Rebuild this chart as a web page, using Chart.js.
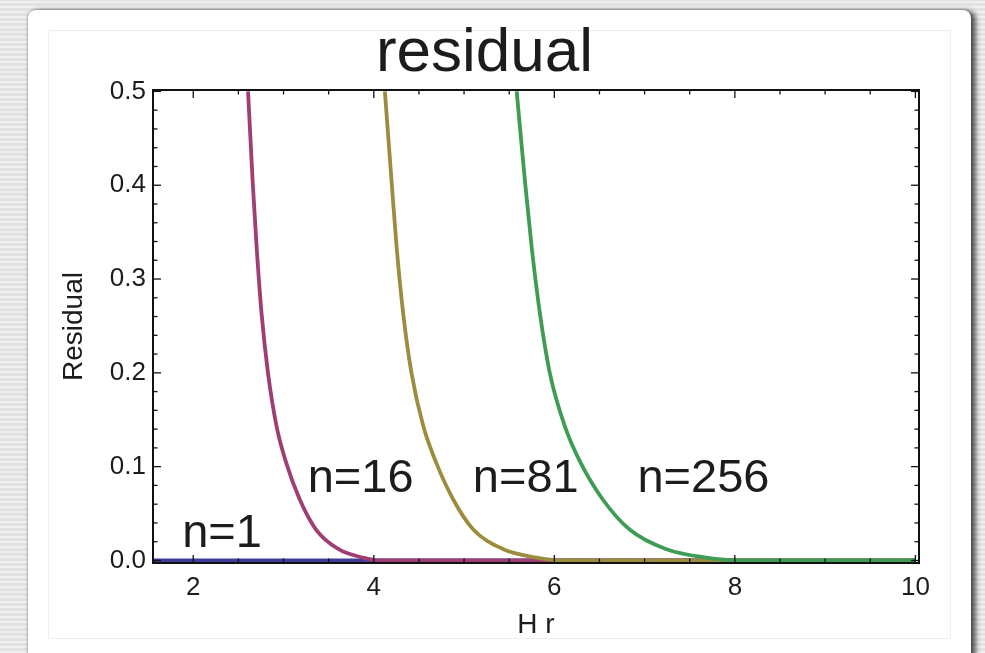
<!DOCTYPE html>
<html>
<head>
<meta charset="utf-8">
<title>residual</title>
<script src="https://cdn.jsdelivr.net/npm/chart.js@4.4.1/dist/chart.umd.min.js"></script>
<style>
  html, body { margin: 0; padding: 0; width: 985px; height: 653px; overflow: hidden; }
  body {
    background-color: #e6e6e6;
    background-image: repeating-linear-gradient(0deg, rgba(255,255,255,0.35) 0px, rgba(255,255,255,0.35) 2px, rgba(0,0,0,0.015) 2px, rgba(0,0,0,0.015) 5px);
  }
  #card {
    position: absolute; left: 28px; top: 10px; width: 943px; height: 700px;
    background: #fff; border-radius: 8px;
    box-shadow: 0 0 3px rgba(0,0,0,0.5), 5px 1px 5px rgba(0,0,0,0.6);
  }
  #inner {
    position: absolute; left: 48px; top: 30px; width: 901px; height: 607px;
    border: 1px solid #eeeeee;
  }
  #plot { position: absolute; left: 0; top: 0; }
</style>
</head>
<body>
<div id="card"></div>
<div id="inner"></div>
<canvas id="plot" width="985" height="653"></canvas>
<script>
// Residual versus H r for n = 1, 16, 81, 256
const hr1 = [1.554, 10.0];
const res1 = [0, 0];

const hr16 = [2.607, 2.658, 2.702, 2.757, 2.829, 2.923, 3.030, 3.180, 3.360, 3.610, 3.880, 4.050, 10.0];
const res16 = [0.500, 0.404, 0.334, 0.263, 0.199, 0.143, 0.104, 0.065, 0.033, 0.012, 0.003, 0.000, 0.000];

const hr81 = [4.123, 4.197, 4.253, 4.326, 4.419, 4.549, 4.692, 4.880, 5.102, 5.435, 5.805, 6.050, 10.0];
const res81 = [0.500, 0.404, 0.334, 0.263, 0.199, 0.143, 0.104, 0.065, 0.033, 0.012, 0.003, 0.000, 0.000];

const hr256 = [5.583, 5.675, 5.749, 5.841, 5.952, 6.117, 6.292, 6.537, 6.834, 7.242, 7.682, 8.050, 10.0];
const res256 = [0.500, 0.404, 0.334, 0.263, 0.199, 0.143, 0.104, 0.065, 0.033, 0.012, 0.003, 0.000, 0.000];

// axis ticks
const xMajorTicks = [2, 4, 6, 8, 10];
const xMinorTicks = [2.5, 3, 3.5, 4.5, 5, 5.5, 6.5, 7, 7.5, 8.5, 9, 9.5];
const yMajorTicks = [0, 0.1, 0.2, 0.3, 0.4, 0.5];
const yMinorTicks = [0.02, 0.04, 0.06, 0.08, 0.12, 0.14, 0.16, 0.18, 0.22, 0.24, 0.26, 0.28,
                     0.32, 0.34, 0.36, 0.38, 0.42, 0.44, 0.46, 0.48];

// curve labels, anchored in data coordinates (text baseline)
const labelTexts = ['n=1', 'n=16', 'n=81', 'n=256'];
const labelHr = [2.319, 3.854, 5.684, 7.652];
const labelRes = [0.0145, 0.0735, 0.0735, 0.0735];

const FONT = '"Liberation Sans", Arial, Helvetica, sans-serif';
const INK = '#1c1c1c';

function pts(xs, ys) { return xs.map((v, i) => ({ x: v, y: ys[i] })); }

const series = [
  { label: 'n=1',   xs: hr1,   ys: res1,   color: 'rgb(63,61,153)',  order: 3 },
  { label: 'n=16',  xs: hr16,  ys: res16,  color: 'rgb(158,62,116)', order: 2 },
  { label: 'n=81',  xs: hr81,  ys: res81,  color: 'rgb(156,140,62)', order: 1 },
  { label: 'n=256', xs: hr256, ys: res256, color: 'rgb(62,156,84)',  order: 0 }
];

const frameAndLabels = {
  id: 'frameAndLabels',
  afterDatasetsDraw(chart) {
    const { ctx, chartArea: a, scales: { x, y } } = chart;
    ctx.save();
    ctx.strokeStyle = '#111';
    const seg = (x1, y1, x2, y2) => { ctx.beginPath(); ctx.moveTo(x1, y1); ctx.lineTo(x2, y2); ctx.stroke(); };
    ctx.lineWidth = 1.3;
    xMajorTicks.forEach(v => { const p = x.getPixelForValue(v); seg(p, a.bottom, p, a.bottom - 8); seg(p, a.top, p, a.top + 8); });
    xMinorTicks.forEach(v => { const p = x.getPixelForValue(v); seg(p, a.bottom, p, a.bottom - 4.5); seg(p, a.top, p, a.top + 4.5); });
    yMajorTicks.forEach(v => { const p = y.getPixelForValue(v); seg(a.left, p, a.left + 8, p); seg(a.right, p, a.right - 8, p); });
    yMinorTicks.forEach(v => { const p = y.getPixelForValue(v); seg(a.left, p, a.left + 4.5, p); seg(a.right, p, a.right - 4.5, p); });
    ctx.lineWidth = 2;
    ctx.strokeRect(a.left, a.top, a.right - a.left, a.bottom - a.top);

    ctx.fillStyle = INK;
    ctx.font = '47px ' + FONT;
    ctx.textAlign = 'center';
    ctx.textBaseline = 'alphabetic';
    labelTexts.forEach((t, i) => ctx.fillText(t, x.getPixelForValue(labelHr[i]), y.getPixelForValue(labelRes[i])));
    ctx.restore();
  }
};

Chart.defaults.font.family = FONT;
Chart.defaults.color = INK;

new Chart(document.getElementById('plot'), {
  type: 'line',
  data: {
    datasets: series.map(s => ({
      label: s.label,
      data: pts(s.xs, s.ys),
      borderColor: s.color,
      borderWidth: 3.8,
      pointRadius: 0,
      fill: false,
      cubicInterpolationMode: 'monotone',
      order: s.order
    }))
  },
  options: {
    responsive: false,
    animation: false,
    devicePixelRatio: 1,
    layout: { padding: { left: 50, right: 66, top: 0, bottom: 0 } },
    plugins: {
      legend: { display: false },
      tooltip: { enabled: false },
      title: {
        display: true,
        text: 'residual',
        color: INK,
        font: { size: 62, weight: 'normal', lineHeight: 1.1 },
        padding: { top: 20, bottom: 1.8 }
      }
    },
    scales: {
      x: {
        type: 'linear',
        min: 1.554,
        max: 10.04,
        grid: { display: false, drawTicks: false },
        border: { display: false },
        afterBuildTicks: s => { s.ticks = xMajorTicks.map(v => ({ value: v })); },
        afterFit: s => { s.height = 90; },
        ticks: { autoSkip: false, maxRotation: 0, padding: 9, font: { size: 26 }, color: INK,
                 callback: v => String(v) },
        title: { display: true, text: 'H r', color: INK, font: { size: 28, lineHeight: 1.2 }, padding: { top: 0, bottom: 11 } }
      },
      y: {
        type: 'linear',
        min: -0.0027,
        max: 0.5015,
        grid: { display: false, drawTicks: false },
        border: { display: false },
        afterBuildTicks: s => { s.ticks = yMajorTicks.map(v => ({ value: v })); },
        afterFit: s => { s.width = 103; },
        ticks: { autoSkip: false, padding: 7, font: { size: 26 }, color: INK,
                 callback: v => v.toFixed(1) },
        title: { display: true, text: 'Residual', color: INK, font: { size: 28, lineHeight: 1.2 }, padding: { top: 7, bottom: 0 } }
      }
    }
  },
  plugins: [frameAndLabels]
});
</script>
</body>
</html>
